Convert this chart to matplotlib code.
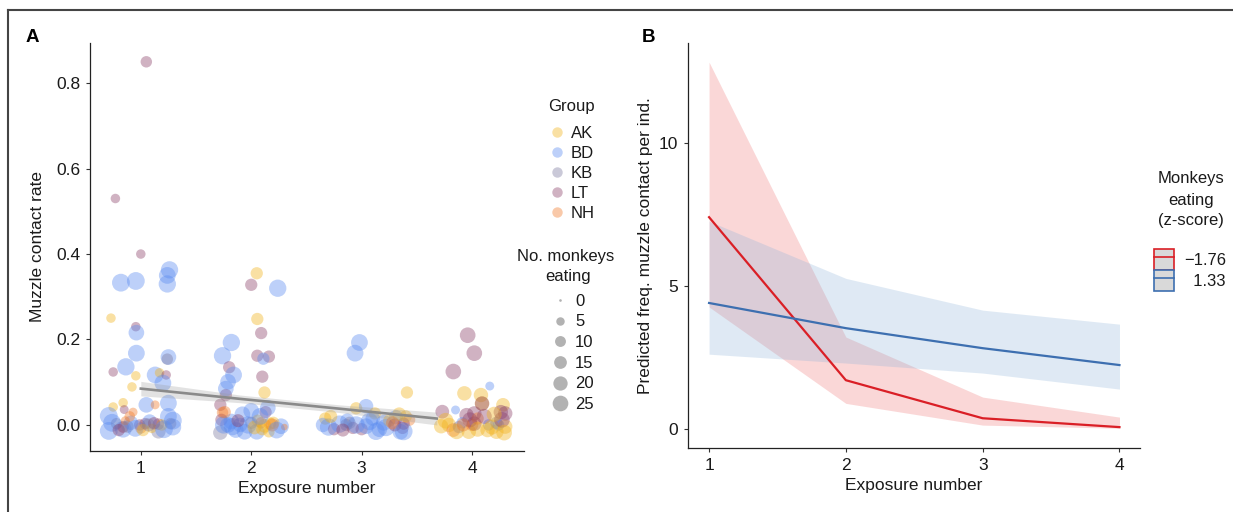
import numpy as np
import matplotlib
matplotlib.use("Agg")
import matplotlib.pyplot as plt
from matplotlib.lines import Line2D
from matplotlib.patches import Patch

plt.rcParams['font.family'] = ['Liberation Sans', 'DejaVu Sans']

# ---------------- Panel A data ----------------
groups = ["AK", "BD", "KB", "LT", "NH"]
group_colors = {"AK": "#F2B21B", "BD": "#5A8BF0", "KB": "#7C7A9E", "LT": "#8A3F68", "NH": "#F07A2A"}

# jittered exposure number, muzzle contact rate, group, no. monkeys eating
pt_x = [1.05, 0.77, 1.00, 0.82, 0.955, 1.26, 1.24, 1.24, 0.73, 0.955, 0.96, 0.96, 1.25, 1.24, 0.75, 0.865,
        0.955, 0.92, 1.13, 1.17, 1.23, 1.20, 1.25, 0.75, 0.84, 0.85, 1.05, 1.13, 0.93, 0.71, 0.71, 0.84,
        0.78, 0.84, 0.99, 1.00, 1.04, 1.16, 1.16, 1.25, 1.29, 1.19, 1.27, 0.91, 1.08, 0.86, 1.10,
        0.74, 0.80, 0.88, 0.95, 1.02, 1.12, 1.21, 1.29, 0.90, 1.07,
        2.05, 2.00, 2.24, 2.055, 2.09, 1.82, 1.74, 2.055, 2.16, 2.11, 1.80, 1.84, 2.10, 1.79, 2.12, 1.77,
        1.77, 1.72, 1.74, 1.73, 1.82, 1.92, 2.00, 2.13, 2.15, 2.06, 2.09, 2.17, 1.86, 1.94, 1.72, 2.16,
        2.27, 2.30, 2.05, 1.79, 2.20, 2.00, 1.90, 2.10,
        1.75, 1.83, 1.97, 2.03, 2.12, 2.19, 2.08, 1.88, 2.23, 1.76,
        2.98, 2.94, 3.41, 2.95, 3.04, 3.12, 3.31, 3.43, 2.67, 2.87, 2.92, 2.89, 3.00, 3.04, 3.16, 3.37,
        3.35, 2.86, 3.20, 3.38, 2.65, 3.25, 3.10, 2.75, 3.40,
        2.70, 2.80, 2.95, 3.07, 3.22, 3.30, 3.34, 2.83, 3.13, 3.28, 2.72, 3.38,
        3.96, 4.02, 3.83, 4.16, 3.93, 4.08, 4.09, 4.09, 4.28, 3.73, 3.85, 3.95, 4.02, 4.26, 4.30, 3.79,
        3.97, 4.00, 3.91, 4.15, 4.14, 4.22, 4.22, 3.72, 3.83, 4.02, 4.24, 4.30, 4.05, 3.88,
        3.76, 3.86, 3.98, 4.11, 4.18, 4.27, 4.29, 3.92, 4.05, 4.20]
pt_y = [0.85, 0.53, 0.40, 0.333, 0.337, 0.363, 0.35, 0.33, 0.25, 0.23, 0.216, 0.168, 0.159, 0.154, 0.124, 0.136,
        0.115, 0.089, 0.117, 0.122, 0.117, 0.098, 0.051, 0.042, 0.052, 0.036, 0.047, 0.047, 0.030, 0.021, -0.014, -0.010,
        0.003, -0.005, 0.000, -0.007, 0.003, 0.002, -0.015, 0.020, -0.005, 0.000, 0.003, 0.005, 0.008, 0.010, -0.008,
        0.005, -0.012, -0.004, -0.008, -0.012, 0.004, -0.010, 0.010, 0.020, 0.000,
        0.355, 0.328, 0.320, 0.248, 0.215, 0.193, 0.162, 0.162, 0.160, 0.155, 0.135, 0.117, 0.113, 0.101, 0.076, 0.070,
        0.085, 0.047, 0.029, 0.012, 0.008, 0.025, 0.033, 0.030, 0.040, 0.010, 0.005, 0.003, -0.012, -0.016, -0.018, -0.016,
        -0.003, -0.005, -0.016, 0.000, 0.005, 0.005, 0.000, -0.010,
        0.000, -0.004, 0.000, -0.006, -0.002, 0.000, 0.020, 0.010, -0.012, 0.030,
        0.193, 0.168, 0.076, 0.039, 0.044, 0.027, 0.018, 0.012, 0.015, 0.010, -0.007, 0.005, -0.010, -0.003, -0.010, -0.007,
        -0.016, 0.000, 0.005, 0.003, 0.000, 0.010, 0.015, -0.010, 0.020,
        -0.005, 0.002, 0.000, 0.008, -0.006, 0.000, 0.025, -0.012, -0.015, 0.005, 0.020, -0.015,
        0.210, 0.168, 0.125, 0.091, 0.074, 0.070, 0.050, 0.050, 0.047, 0.031, 0.035, 0.023, 0.027, 0.030, 0.027, 0.000,
        -0.016, 0.000, 0.005, 0.000, -0.012, -0.016, 0.005, -0.003, -0.012, 0.003, 0.000, -0.004, 0.015, -0.005,
        0.010, -0.015, 0.012, 0.020, -0.005, 0.012, -0.018, 0.000, -0.010, 0.025]
pt_group = ["LT", "LT", "LT", "BD", "BD", "BD", "BD", "BD", "AK", "LT", "BD", "BD", "BD", "KB", "LT", "BD",
            "AK", "AK", "BD", "AK", "LT", "BD", "BD", "AK", "AK", "LT", "BD", "NH", "NH", "BD", "BD", "BD",
            "KB", "LT", "LT", "NH", "LT", "LT", "KB", "BD", "BD", "AK", "KB", "BD", "BD", "NH", "AK",
            "BD", "LT", "KB", "BD", "AK", "LT", "BD", "BD", "NH", "KB",
            "AK", "LT", "BD", "AK", "LT", "BD", "BD", "LT", "LT", "BD", "LT", "BD", "LT", "BD", "AK", "LT",
            "BD", "LT", "NH", "LT", "BD", "BD", "BD", "LT", "BD", "AK", "NH", "AK", "BD", "BD", "KB", "AK",
            "BD", "NH", "BD", "BD", "AK", "KB", "BD", "AK",
            "BD", "BD", "BD", "AK", "AK", "NH", "BD", "LT", "BD", "NH",
            "BD", "BD", "AK", "AK", "BD", "AK", "BD", "NH", "AK", "BD", "LT", "KB", "LT", "BD", "BD", "LT",
            "BD", "KB", "BD", "LT", "BD", "AK", "BD", "LT", "AK",
            "BD", "BD", "BD", "BD", "BD", "LT", "AK", "LT", "BD", "NH", "AK", "BD",
            "LT", "LT", "LT", "BD", "AK", "AK", "AK", "LT", "AK", "LT", "BD", "LT", "LT", "LT", "LT", "AK",
            "AK", "NH", "BD", "BD", "AK", "AK", "KB", "AK", "NH", "LT", "BD", "AK", "NH", "KB",
            "AK", "AK", "LT", "LT", "AK", "LT", "AK", "NH", "AK", "AK"]
pt_n = [10, 6, 6, 30, 30, 28, 26, 28, 6, 6, 22, 26, 22, 10, 6, 28,
        6, 6, 26, 6, 6, 26, 26, 6, 6, 5, 22, 5, 5, 30, 30, 26,
        10, 10, 10, 10, 10, 10, 18, 26, 26, 10, 10, 18, 18, 5, 6,
        30, 12, 12, 26, 12, 12, 30, 30, 8, 14,
        12, 12, 28, 12, 12, 28, 28, 12, 12, 12, 12, 26, 12, 22, 12, 12,
        22, 12, 10, 12, 22, 22, 22, 12, 22, 12, 10, 12, 22, 22, 18, 10,
        22, 2, 22, 22, 12, 12, 18, 12,
        28, 28, 28, 16, 16, 14, 26, 14, 26, 12,
        26, 26, 12, 12, 18, 12, 18, 12, 12, 18, 12, 12, 12, 22, 22, 12,
        22, 12, 22, 12, 18, 12, 18, 12, 12,
        28, 28, 28, 28, 28, 14, 16, 14, 28, 14, 14, 30,
        22, 22, 22, 5, 18, 18, 18, 18, 16, 16, 5, 18, 18, 18, 18, 18,
        18, 12, 10, 10, 18, 18, 12, 18, 16, 18, 10, 18, 12, 12,
        22, 22, 20, 20, 20, 22, 22, 14, 20, 20]

size_levels = [0, 5, 10, 15, 20, 25]

# regression line + CI (panel A)
fit_x = [1.0, 1.9, 2.8, 3.68]
fit_y = [0.085, 0.061, 0.038, 0.015]
fit_lo = [0.068, 0.052, 0.029, 0.000]
fit_hi = [0.102, 0.070, 0.047, 0.030]

# ---------------- Panel B data ----------------
exposure = [1, 2, 3, 4]
red_mean = [7.41, 1.71, 0.38, 0.07]
red_lo = [4.27, 0.90, 0.14, 0.03]
red_hi = [12.83, 3.22, 1.12, 0.42]
blue_mean = [4.41, 3.53, 2.83, 2.24]
blue_lo = [2.62, 2.31, 1.96, 1.40]
blue_hi = [7.27, 5.27, 4.16, 3.67]
z_labels = ["\u22121.76", "\u20071.33"]

# ---------------- Figure ----------------
W, H = 1233, 512
fig = plt.figure(figsize=(W / 100, H / 100), dpi=100)


def diam_px(n):
    return 2.75 * (1 + 5 * np.sqrt(np.asarray(n, dtype=float) / 25.0))


def s_of(n):
    return (diam_px(n) * 0.72) ** 2


tick_fs = 12.5
lab_fs = 12.5
leg_fs = 12
txt_col = "#1a1a1a"


def fx(px):
    return px / W


def fy(py):
    return 1 - py / H


# Panel A
axA = fig.add_axes([fx(90), fy(451), (524 - 90) / W, (451 - 43) / H])
cols = [group_colors[g] for g in pt_group]
axA.scatter(pt_x, pt_y, s=s_of(pt_n), c=cols, alpha=0.4, linewidths=0, zorder=2)
axA.fill_between(fit_x, fit_lo, fit_hi, color="#999999", alpha=0.28, linewidth=0, zorder=3)
axA.plot(fit_x, fit_y, color="#8a8a8a", lw=1.9, zorder=4)
axA.set_xlim(0.54, 4.47)
axA.set_ylim(-0.061, 0.894)
axA.set_xticks([1, 2, 3, 4])
axA.set_yticks([0.0, 0.2, 0.4, 0.6, 0.8])
axA.set_yticklabels(["0.0", "0.2", "0.4", "0.6", "0.8"])
axA.set_xlabel("Exposure number", fontsize=lab_fs, color=txt_col, labelpad=4)
axA.set_ylabel("Muzzle contact rate", fontsize=lab_fs, color=txt_col, labelpad=8)

# Panel B
axB = fig.add_axes([fx(688), fy(448), (1140 - 688) / W, (448 - 43) / H])
axB.fill_between(exposure, red_lo, red_hi, color="#F28B8B", alpha=0.34, linewidth=0)
axB.fill_between(exposure, blue_lo, blue_hi, color="#8DB3DA", alpha=0.28, linewidth=0)
axB.plot(exposure, red_mean, color="#DA1F26", lw=1.6)
axB.plot(exposure, blue_mean, color="#3D6FB0", lw=1.6)
axB.set_xlim(0.846, 4.15)
axB.set_ylim(-0.66, 13.5)
axB.set_xticks(exposure)
axB.set_yticks([0, 5, 10])
axB.set_xlabel("Exposure number", fontsize=lab_fs, color=txt_col, labelpad=4)
axB.set_ylabel("Predicted freq. muzzle contact per ind.", fontsize=lab_fs, color=txt_col, labelpad=4)

for ax in (axA, axB):
    for sp in ("top", "right"):
        ax.spines[sp].set_visible(False)
    for sp in ("left", "bottom"):
        ax.spines[sp].set_linewidth(0.9)
        ax.spines[sp].set_color("#222222")
    ax.tick_params(axis="both", length=3, width=0.8, color="#333333", labelsize=tick_fs,
                   labelcolor=txt_col, pad=4)

# ---- Panel A legends (titles drawn as text) ----
fig.text(fx(548), fy(107), "Group", fontsize=leg_fs, color=txt_col, ha="left", va="center")
g_handles = [Line2D([], [], marker="o", ls="", markersize=7.5, markerfacecolor=group_colors[g],
                    markeredgewidth=0, alpha=0.4) for g in groups]
leg1 = fig.legend(g_handles, groups, loc="center left",
                  bbox_to_anchor=(fx(550), fy(173.5)), frameon=False, fontsize=leg_fs,
                  handlelength=0.8, handletextpad=0.44, labelspacing=0.3,
                  borderaxespad=0, borderpad=0)

fig.text(fx(566), fy(257), "No. monkeys", fontsize=leg_fs, color=txt_col, ha="center", va="center")
fig.text(fx(568), fy(277), "eating", fontsize=leg_fs, color=txt_col, ha="center", va="center")
s_handles = [Line2D([], [], marker="o", ls="", markersize=float(diam_px(n)) * 0.72 * 0.95,
                    markerfacecolor="#7f7f7f", markeredgewidth=0, alpha=0.6) for n in size_levels]
leg2 = fig.legend(s_handles, [str(n) for n in size_levels], loc="center left",
                  bbox_to_anchor=(fx(551.7), fy(353)), frameon=False, fontsize=leg_fs,
                  handlelength=1.0, handletextpad=0.4, labelspacing=0.34,
                  borderaxespad=0, borderpad=0)

# ---- Panel B legend ----
for txt, yy in (("Monkeys", 179), ("eating", 200), ("(z-score)", 220)):
    fig.text(fx(1191), fy(yy), txt, fontsize=leg_fs, color=txt_col, ha="center", va="center")
b_handles = [
    (Patch(facecolor="#d9d9d9", edgecolor="#DA1F26", linewidth=1.2),
     Line2D([], [], color="#DA1F26", lw=1.2)),
    (Patch(facecolor="#d9d9d9", edgecolor="#3D6FB0", linewidth=1.2),
     Line2D([], [], color="#3D6FB0", lw=1.2)),
]
leg3 = fig.legend(b_handles, z_labels, loc="center left",
                  bbox_to_anchor=(fx(1154), fy(270)), frameon=False, fontsize=leg_fs,
                  handlelength=1.2, handleheight=1.55, handletextpad=0.62,
                  labelspacing=0.0, borderaxespad=0, borderpad=0)

for lg in (leg1, leg2, leg3):
    for t in lg.get_texts():
        t.set_color(txt_col)

# Panel letters
fig.text(fx(32), fy(37), "A", fontsize=13.5, fontweight="bold", ha="center", va="center")
fig.text(fx(649), fy(37), "B", fontsize=13.5, fontweight="bold", ha="center", va="center")

# Frame lines (top and left)
fig.add_artist(Line2D([fx(8), 1.0], [fy(10), fy(10)], color="#444444", lw=1.5,
                      transform=fig.transFigure))
fig.add_artist(Line2D([fx(8), fx(8)], [0, fy(10)], color="#444444", lw=1.5,
                      transform=fig.transFigure))

fig.savefig("out.png", dpi=100)
